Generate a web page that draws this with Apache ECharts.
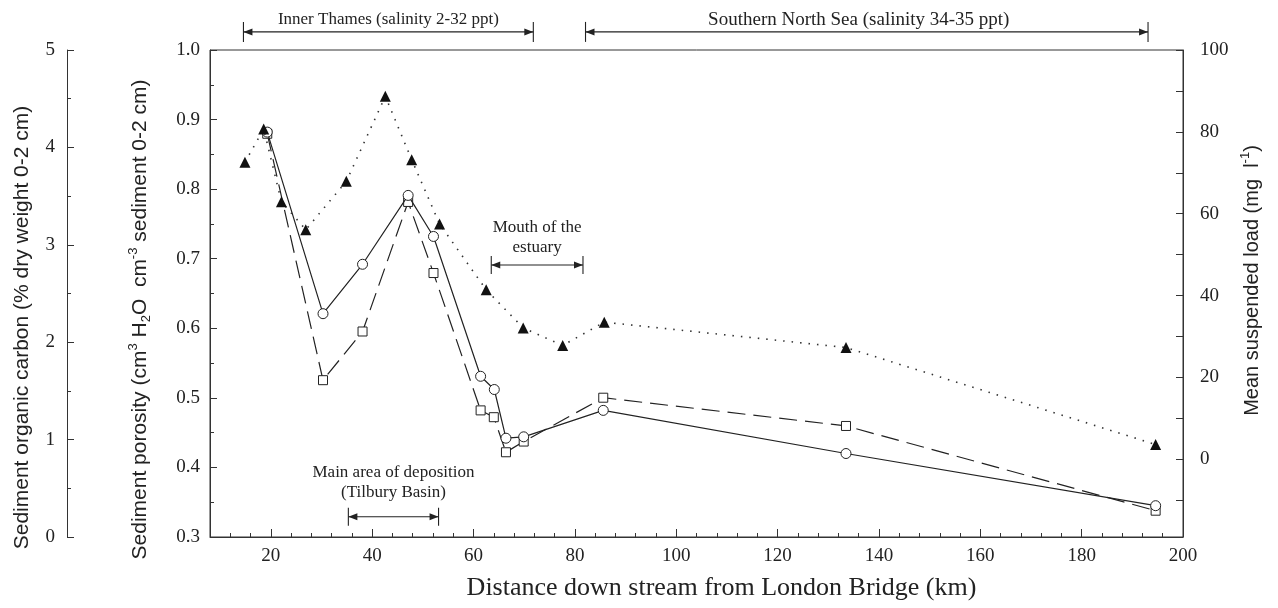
<!DOCTYPE html>
<html><head><meta charset="utf-8">
<script src="https://cdn.jsdelivr.net/npm/echarts@6/dist/echarts.min.js"></script>
<style>html,body{margin:0;padding:0;background:#fff}#c{width:1278px;height:608px}</style>
</head><body><div id="c"></div><script>
// ---- data ----
const porosityKm = [19.3, 30.3, 38.1, 47.1, 52.1, 61.4, 64.1, 66.4, 69.9, 85.6, 133.5, 194.6];
const porosity   = [0.882, 0.621, 0.692, 0.791, 0.732, 0.531, 0.512, 0.442, 0.444, 0.482, 0.420, 0.345];
const carbonKm   = [19.3, 30.3, 38.1, 47.1, 52.1, 61.4, 64.0, 66.4, 69.9, 85.6, 133.5, 194.6];
const carbon     = [4.14, 1.61, 2.11, 3.44, 2.71, 1.30, 1.23, 0.87, 0.98, 1.43, 1.14, 0.27];
const loadKm     = [14.9, 18.6, 22.1, 26.9, 34.9, 42.6, 47.8, 53.3, 62.5, 69.8, 77.6, 85.8, 133.5, 194.6];
const load       = [72.6, 80.7, 62.9, 56.1, 67.9, 88.7, 73.2, 57.5, 41.4, 32.1, 27.8, 33.5, 27.3, 3.6];
const xLabels    = [20, 40, 60, 80, 100, 120, 140, 160, 180, 200];
const loadLabels = [0, 20, 40, 60, 80, 100];
const loadTicks  = [-10, 0, 10, 20, 30, 40, 50, 60, 70, 80, 90, 100];
// annotation spans (km from, km to, level on porosity scale)
const spanText  = ['Inner Thames (salinity 2-32 ppt)', 'Southern North Sea (salinity 34-35 ppt)', 'Mouth of the\nestuary', 'Main area of deposition\n(Tilbury Basin)'];
const spanFrom  = [14.6, 82.1, 63.5, 35.3];
const spanTo    = [71.8, 193.1, 81.6, 53.1];
const spanLevel = [1.026, 1.026, 0.691, 0.329];

// ---- styles ----
const SERIF = '"Liberation Serif", "Times New Roman", serif';
const SANS = '"Liberation Sans", Arial, sans-serif';
const INK = '#222';
const textGap = [2, 2, 7, 14];
const textSize = [17, 19, 17, 17];
const textShift = [0, -8, 0, 0];
const barHalf = [10, 10, 9, 9];

const pair = (xs, ys) => xs.map((x, i) => [x, ys[i]]);

const chart = echarts.init(document.getElementById('c'), null, {renderer: 'canvas'});

const titleRich = (size) => ({
  a: {fontFamily: SANS, fontSize: size, color: INK, lineHeight: 26},
  s: {fontFamily: SANS, fontSize: 13, color: INK, verticalAlign: 'top', lineHeight: 13},
  b: {fontFamily: SANS, fontSize: 13, color: INK, verticalAlign: 'bottom', lineHeight: 13}
});

const axisLineStyle = {show: true, onZero: false, lineStyle: {color: '#333', width: 1}};

chart.setOption({
  animation: false,
  backgroundColor: '#fff',
  grid: {left: 210, right: 95, top: 50, bottom: 71, show: true, borderColor: '#333', borderWidth: 1, backgroundColor: 'transparent'},
  xAxis: [{
    type: 'value', min: 8, max: 200, interval: 4,
    position: 'bottom',
    axisLine: axisLineStyle,
    axisTick: {show: true, inside: true, length: 4, lineStyle: {color: '#333'}},
    axisLabel: {show: true, margin: 10, fontFamily: SERIF, fontSize: 19, color: INK,
      formatter: v => (v % 20 === 0 ? String(v) : '')},
    splitLine: {show: false},
    name: 'Distance down stream from London Bridge (km)',
    nameLocation: 'middle', nameGap: 38,
    nameTextStyle: {fontFamily: SERIF, fontSize: 26, color: INK, padding: [0, 0, 0, 50]}
  }, {
    type: 'value', min: 8, max: 200, gridIndex: 0,
    position: 'bottom',
    axisLine: {show: false, onZero: false},
    axisTick: {show: true, inside: true, length: 8, customValues: xLabels, lineStyle: {color: '#333'}},
    axisLabel: {show: false},
    splitLine: {show: false}
  }],
  yAxis: [{
    type: 'value', min: 0.3, max: 1.0, interval: 0.1,
    position: 'left', offset: 0,
    axisLine: axisLineStyle,
    axisTick: {show: true, inside: true, length: 7, lineStyle: {color: '#333'}},
    minorTick: {show: true, splitNumber: 2, length: 4, lineStyle: {color: '#333'}},
    axisLabel: {margin: 10, fontFamily: SERIF, fontSize: 19, color: INK, formatter: v => v.toFixed(1)},
    splitLine: {show: false},
    name: '{a|Sediment porosity (cm}{s|3}{a| H}{b|2}{a|O  cm}{s|-3}{a| sediment 0-2 cm)}',
    nameLocation: 'middle', nameGap: 57, nameRotate: 90,
    nameTextStyle: {fontFamily: SANS, fontSize: 21, color: INK, rich: titleRich(21), padding: [0, 52, 0, 0]}
  }, {
    type: 'value', min: 0, max: 5, interval: 1,
    position: 'left', offset: 143,
    axisLine: axisLineStyle,
    axisTick: {show: true, inside: true, length: 7, lineStyle: {color: '#333'}},
    minorTick: {show: true, splitNumber: 2, length: 4, lineStyle: {color: '#333'}},
    axisLabel: {margin: 12, fontFamily: SERIF, fontSize: 19, color: INK},
    splitLine: {show: false},
    name: 'Sediment organic carbon (% dry weight 0-2 cm)',
    nameLocation: 'middle', nameGap: 34, nameRotate: 90,
    nameTextStyle: {fontFamily: SANS, fontSize: 21, color: INK, padding: [0, 68, 0, 0]}
  }, {
    type: 'value', min: -19, max: 100,
    position: 'right', offset: 0,
    axisLine: axisLineStyle,
    axisTick: {show: true, inside: true, length: 7, customValues: loadTicks, lineStyle: {color: '#333'}},
    axisLabel: {margin: 17, fontFamily: SERIF, fontSize: 19, color: INK, customValues: loadLabels},
    splitLine: {show: false},
    name: '{a|Mean suspended load (mg  l}{s|-1}{a|)}',
    nameLocation: 'middle', nameGap: 56, nameRotate: 90,
    nameTextStyle: {fontFamily: SANS, fontSize: 20, color: INK, rich: titleRich(20), padding: [0, 0, 0, 26]}
  }],
  series: [{
    name: 'Organic carbon', type: 'line', xAxisIndex: 0, yAxisIndex: 1,
    data: pair(carbonKm, carbon),
    symbol: 'rect', symbolSize: 9, showSymbol: true,
    lineStyle: {color: INK, width: 1.2, type: [18, 8]},
    itemStyle: {color: '#fff', borderColor: INK, borderWidth: 1},
    z: 3
  }, {
    name: 'Porosity', type: 'line', xAxisIndex: 0, yAxisIndex: 0,
    data: pair(porosityKm, porosity),
    symbol: 'circle', symbolSize: 10, showSymbol: true,
    lineStyle: {color: INK, width: 1.2, type: 'solid'},
    itemStyle: {color: '#fff', borderColor: INK, borderWidth: 1},
    z: 4
  }, {
    name: 'Suspended load', type: 'line', xAxisIndex: 0, yAxisIndex: 2,
    data: pair(loadKm, load),
    symbol: 'triangle', symbolSize: 11, showSymbol: true,
    lineStyle: {color: '#333', width: 1.6, type: [1.5, 7]},
    itemStyle: {color: '#111', borderWidth: 0},
    z: 5
  }]
});

// annotations with span arrows, placed through the axes' scales
const g = [];
spanText.forEach((t, i) => {
  const p1 = chart.convertToPixel({xAxisIndex: 0, yAxisIndex: 0}, [spanFrom[i], spanLevel[i]]);
  const p2 = chart.convertToPixel({xAxisIndex: 0, yAxisIndex: 0}, [spanTo[i], spanLevel[i]]);
  const x1 = p1[0], x2 = p2[0], y = p1[1], h = barHalf[i];
  const ls = {stroke: INK, lineWidth: 1.1};
  g.push({type: 'line', shape: {x1: x1, y1: y, x2: x2, y2: y}, style: ls, silent: true});
  g.push({type: 'line', shape: {x1: x1, y1: y - h, x2: x1, y2: y + h}, style: ls, silent: true});
  g.push({type: 'line', shape: {x1: x2, y1: y - h, x2: x2, y2: y + h}, style: ls, silent: true});
  g.push({type: 'polygon', shape: {points: [[x1, y], [x1 + 9, y - 3.5], [x1 + 9, y + 3.5]]}, style: {fill: INK}, silent: true});
  g.push({type: 'polygon', shape: {points: [[x2, y], [x2 - 9, y - 3.5], [x2 - 9, y + 3.5]]}, style: {fill: INK}, silent: true});
  g.push({type: 'text', silent: true, style: {
    text: t, x: (x1 + x2) / 2 + textShift[i], y: y - textGap[i], align: 'center', verticalAlign: 'bottom',
    fontFamily: SERIF, fontSize: textSize[i], lineHeight: 20, fill: INK
  }});
});
chart.setOption({graphic: g});
</script></body></html>
